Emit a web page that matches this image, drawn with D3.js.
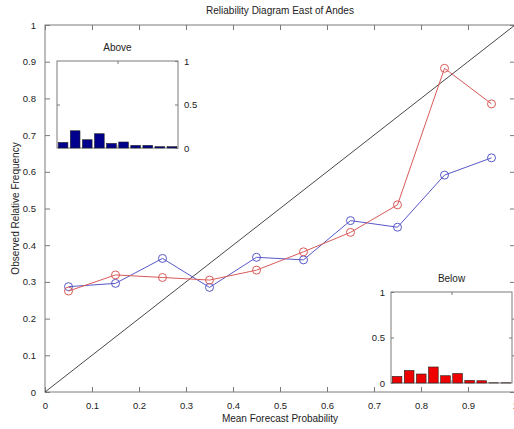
<!DOCTYPE html>
<html>
<head>
<meta charset="utf-8">
<script src="https://cdn.jsdelivr.net/npm/d3@7"></script>
<style>
  html, body { margin: 0; padding: 0; background: #fff; }
  svg { display: block; font-family: "Liberation Sans", Arial, Helvetica, sans-serif; }
</style>
</head>
<body>
<svg id="chart" width="514" height="429"></svg>
<script>
// Forecast probability bins (bin centres)
const binCenters = [0.05, 0.15, 0.25, 0.35, 0.45, 0.55, 0.65, 0.75, 0.85, 0.95];
// Observed relative frequency per bin
const aboveObserved = [0.287, 0.296, 0.364, 0.285, 0.367, 0.360, 0.467, 0.449, 0.591, 0.638];
const belowObserved = [0.275, 0.319, 0.312, 0.305, 0.332, 0.382, 0.435, 0.510, 0.882, 0.785];
// Share of forecasts falling in each bin (sharpness histograms)
const aboveCounts = [0.064, 0.198, 0.095, 0.164, 0.053, 0.069, 0.030, 0.030, 0.015, 0.015];
const belowCounts = [0.073, 0.138, 0.099, 0.176, 0.080, 0.105, 0.029, 0.025, 0.002, 0.002];
// Axis ticks
const mainTicks = [0, 0.1, 0.2, 0.3, 0.4, 0.5, 0.6, 0.7, 0.8, 0.9, 1];
const insetTicks = [0, 0.5, 1];

(function () {
const svg = d3.select("#chart");
const axisColor = "#7a7a7a";
const fs = "9.5px";

const mLeft = 45, mRight = 515, mTop = 25, mBottom = 392;
const x = d3.scaleLinear().domain([0, 1]).range([mLeft, mRight]);
const y = d3.scaleLinear().domain([0, 1]).range([mBottom, mTop]);

// Frame
svg.append("rect").attr("x", mLeft).attr("y", mTop)
  .attr("width", mRight - mLeft).attr("height", mBottom - mTop)
  .attr("fill", "#fff").attr("stroke", axisColor).attr("stroke-width", 1);

// Axes with inward ticks
const tickLen = 5;
const xAxis = d3.axisBottom(x).tickValues(mainTicks).tickFormat(d3.format("")).tickSizeInner(-tickLen).tickSizeOuter(0).tickPadding(10);
const yAxis = d3.axisLeft(y).tickValues(mainTicks).tickFormat(d3.format("")).tickSizeInner(-tickLen).tickSizeOuter(0).tickPadding(9);
const xTop = d3.axisTop(x).tickValues(mainTicks).tickFormat("").tickSizeInner(-tickLen).tickSizeOuter(0);
const yRight = d3.axisRight(y).tickValues(mainTicks).tickFormat("").tickSizeInner(-tickLen).tickSizeOuter(0);

function styleAxis(g) {
  g.select(".domain").remove();
  g.selectAll(".tick line").attr("stroke", axisColor);
  g.selectAll(".tick text").attr("fill", "#222").style("font-size", fs).style("font-family", "inherit");
}
svg.append("g").attr("transform", `translate(0,${mBottom})`).call(xAxis).call(styleAxis);
svg.append("g").attr("transform", `translate(${mLeft},0)`).call(yAxis).call(styleAxis);
svg.append("g").attr("transform", `translate(0,${mTop})`).call(xTop).call(styleAxis);
svg.append("g").attr("transform", `translate(${mRight},0)`).call(yRight).call(styleAxis);

// Perfect reliability diagonal
svg.append("line")
  .attr("x1", x(0)).attr("y1", y(0)).attr("x2", x(1)).attr("y2", y(1))
  .attr("stroke", "#333").attr("stroke-width", 0.9);

// Reliability curves
const line = d3.line().x((d, i) => x(binCenters[i])).y(d => y(d));
function curve(values, color) {
  svg.append("path").datum(values).attr("d", line)
    .attr("fill", "none").attr("stroke", color).attr("stroke-width", 1);
  svg.append("g").selectAll("circle").data(values).join("circle")
    .attr("cx", (d, i) => x(binCenters[i])).attr("cy", d => y(d)).attr("r", 4)
    .attr("fill", "none").attr("stroke", color).attr("stroke-width", 1);
}
curve(aboveObserved, "#5858c8");
curve(belowObserved, "#d85a5a");

// Titles and axis labels
svg.append("text").attr("x", (mLeft + mRight) / 2).attr("y", 14).attr("text-anchor", "middle")
  .style("font-size", "10px").attr("fill", "#222").text("Reliability Diagram East of Andes");
svg.append("text").attr("x", (mLeft + mRight) / 2).attr("y", 422).attr("text-anchor", "middle")
  .style("font-size", "10px").attr("fill", "#222").text("Mean Forecast Probability");
svg.append("text").attr("transform", `translate(19,${(mTop + mBottom) / 2}) rotate(-90)`)
  .attr("text-anchor", "middle").style("font-size", "10px").attr("fill", "#222")
  .text("Observed Relative Frequency");

// Sharpness inset histograms
function inset(box, counts, color, title, labelSide) {
  const ix = d3.scaleLinear().domain([0, 1]).range([box.x0, box.x1]);
  const iy = d3.scaleLinear().domain([0, 1]).range([box.y1, box.y0]);
  const g = svg.append("g");
  g.append("rect").attr("x", box.x0).attr("y", box.y0)
    .attr("width", box.x1 - box.x0).attr("height", box.y1 - box.y0)
    .attr("fill", "#fff").attr("stroke", axisColor);
  const bw = 0.08;
  g.selectAll("rect.bar").data(counts).join("rect").attr("class", "bar")
    .attr("x", (d, i) => ix(binCenters[i] - bw / 2))
    .attr("width", (d, i) => ix(binCenters[i] + bw / 2) - ix(binCenters[i] - bw / 2))
    .attr("y", d => iy(d)).attr("height", d => iy(0) - iy(d))
    .attr("fill", color).attr("stroke", "#222").attr("stroke-width", 0.6);
  const t = 3;
  const side = labelSide === "right"
    ? d3.axisRight(iy).tickValues(insetTicks).tickFormat(d3.format("")).tickSizeInner(-t).tickSizeOuter(0).tickPadding(6)
    : d3.axisLeft(iy).tickValues(insetTicks).tickFormat(d3.format("")).tickSizeInner(-t).tickSizeOuter(0).tickPadding(6);
  g.append("g").attr("transform", `translate(${labelSide === "right" ? box.x1 : box.x0},0)`).call(side).call(styleAxis);
  const other = labelSide === "right"
    ? d3.axisLeft(iy).tickValues([0.5]).tickFormat("").tickSizeInner(-t).tickSizeOuter(0)
    : d3.axisRight(iy).tickValues([0.5]).tickFormat("").tickSizeInner(-t).tickSizeOuter(0);
  g.append("g").attr("transform", `translate(${labelSide === "right" ? box.x0 : box.x1},0)`).call(other).call(styleAxis);
  g.append("g").attr("transform", `translate(0,${box.y0})`)
    .call(d3.axisTop(ix).tickValues([0.5]).tickFormat("").tickSizeInner(-t).tickSizeOuter(0)).call(styleAxis);
  g.append("g").attr("transform", `translate(0,${box.y1})`)
    .call(d3.axisBottom(ix).tickValues([0.5]).tickFormat("").tickSizeInner(-t).tickSizeOuter(0)).call(styleAxis);
  g.append("text").attr("x", (box.x0 + box.x1) / 2).attr("y", box.y0 - 10).attr("text-anchor", "middle")
    .style("font-size", "10px").attr("fill", "#222").text(title);
}
inset({ x0: 57, x1: 178, y0: 61, y1: 148 }, aboveCounts, "#00008c", "Above", "right");
inset({ x0: 391, x1: 512, y0: 292, y1: 383 }, belowCounts, "#ee0000", "Below", "left");
})();
</script>
</body>
</html>
